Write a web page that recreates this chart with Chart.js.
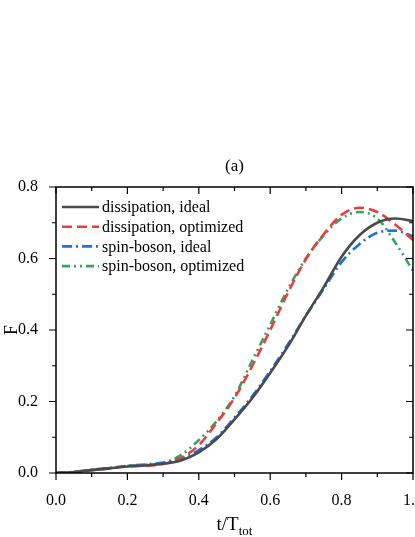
<!DOCTYPE html>
<html lang="en">
  <head>
    <meta charset="UTF-8" />
    <title>F vs t/Ttot</title>
    <script src="https://cdn.jsdelivr.net/npm/chart.js"></script>
    <style>
      body { margin: 0; background: #fff; }
      canvas { display: block; }
    </style>
  </head>
  <body>
    <canvas id="chart" width="415" height="537"></canvas>
    <script>
      // time axis (t / T_tot)
      const tVals = [0, 0.05, 0.1, 0.15, 0.2, 0.25, 0.3, 0.35, 0.4, 0.45, 0.5,
                     0.55, 0.6, 0.65, 0.7, 0.75, 0.8, 0.85, 0.9, 0.95, 1.0];
      const dissIdeal = [0, 0.003, 0.008, 0.013, 0.018, 0.021, 0.026, 0.035, 0.058, 0.095, 0.15,
                         0.21, 0.28, 0.355, 0.44, 0.52, 0.605, 0.665, 0.70, 0.712, 0.705];
      const dissOpt = [0, 0.002, 0.008, 0.013, 0.019, 0.02, 0.025, 0.042, 0.078, 0.14, 0.21,
                       0.30, 0.40, 0.505, 0.598, 0.668, 0.722, 0.742, 0.73, 0.695, 0.652];
      const spinIdeal = [0, 0.003, 0.009, 0.014, 0.02, 0.024, 0.029, 0.04, 0.064, 0.10, 0.155,
                         0.215, 0.285, 0.36, 0.44, 0.515, 0.59, 0.64, 0.672, 0.678, 0.662];
      const spinOpt = [0, 0.003, 0.009, 0.014, 0.02, 0.023, 0.028, 0.05, 0.092, 0.145, 0.215,
                       0.315, 0.415, 0.515, 0.6, 0.665, 0.712, 0.73, 0.712, 0.645, 0.566];
      const seriesNames = ['dissipation, ideal', 'dissipation, optimized',
                           'spin-boson, ideal', 'spin-boson, optimized'];

      const FONT = '"Liberation Serif", "Times New Roman", serif';
      const pts = (ys) => tVals.map((t, i) => ({ x: t, y: ys[i] }));

      function ds(label, ys, color, dash) {
        return {
          label: label,
          data: pts(ys),
          borderColor: color,
          borderWidth: 2.6,
          borderDash: dash,
          pointRadius: 0,
          fill: false,
          cubicInterpolationMode: 'monotone'
        };
      }

      // frame, inner/outer ticks, legend, titles
      const decor = {
        id: 'decor',
        afterDraw(chart) {
          const c = chart.ctx;
          const a = chart.chartArea;
          const xs = chart.scales.x, ys = chart.scales.y;
          c.save();
          c.strokeStyle = '#000';
          c.lineWidth = 1.5;
          c.setLineDash([]);
          c.strokeRect(a.left, a.top, a.right - a.left, a.bottom - a.top);

          c.lineWidth = 1.2;
          for (let k = 0; k <= 10; k++) {
            const px = xs.getPixelForValue(k / 10);
            const len = k % 2 === 0 ? 7 : 4;
            c.beginPath();
            c.moveTo(px, a.bottom); c.lineTo(px, a.bottom + len);
            c.moveTo(px, a.top); c.lineTo(px, a.top + len);
            c.stroke();
          }
          for (let k = 0; k <= 8; k++) {
            const py = ys.getPixelForValue(k / 10);
            const len = k % 2 === 0 ? 7 : 4;
            c.beginPath();
            c.moveTo(a.left, py); c.lineTo(a.left - len, py);
            c.moveTo(a.right, py); c.lineTo(a.right - len, py);
            c.stroke();
          }

          // legend
          c.font = '16px ' + FONT;
          c.textBaseline = 'middle';
          c.fillStyle = '#000';
          chart.data.datasets.forEach((d, i) => {
            const y = a.top + 20 + i * 19.7;
            c.strokeStyle = d.borderColor;
            c.lineWidth = 2.6;
            c.setLineDash(d.borderDash || []);
            c.beginPath();
            c.moveTo(a.left + 6, y); c.lineTo(a.left + 43, y);
            c.stroke();
            c.setLineDash([]);
            c.fillText(d.label, a.left + 46, y + 1);
          });

          // title
          const cx = (a.left + a.right) / 2;
          c.textAlign = 'center';
          c.font = '17px ' + FONT;
          c.fillText('(a)', cx, 167);

          // x title with subscript
          c.textBaseline = 'alphabetic';
          c.font = '19px ' + FONT;
          const main = 't/T';
          const wMain = c.measureText(main).width;
          c.font = '13px ' + FONT;
          const wSub = c.measureText('tot').width;
          const x0 = cx - (wMain + wSub) / 2;
          c.textAlign = 'left';
          c.font = '19px ' + FONT;
          c.fillText(main, x0, 530);
          c.font = '13px ' + FONT;
          c.fillText('tot', x0 + wMain, 535);

          // y title
          c.textBaseline = 'middle';
          c.translate(12, (a.top + a.bottom) / 2);
          c.rotate(-Math.PI / 2);
          c.textAlign = 'center';
          c.font = '18px ' + FONT;
          c.fillText('F', 0, 0);
          c.restore();
        }
      };

      new Chart(document.getElementById('chart'), {
        type: 'line',
        data: {
          datasets: [
            ds(seriesNames[0], dissIdeal, '#4a4a4a', []),
            ds(seriesNames[1], dissOpt, '#eb3d3d', [10, 5]),
            ds(seriesNames[2], spinIdeal, '#1f6fe0', [10, 4, 2, 4]),
            ds(seriesNames[3], spinOpt, '#2ea65c', [8, 4, 2, 4, 2, 4])
          ]
        },
        options: {
          responsive: false,
          animation: false,
          layout: { padding: { top: 187, right: 2, left: 0, bottom: 0 } },
          plugins: { legend: { display: false }, tooltip: { enabled: false } },
          scales: {
            x: {
              type: 'linear',
              min: 0, max: 1.0,
              grid: { display: false },
              border: { display: false },
              ticks: {
                stepSize: 0.2,
                padding: 10,
                color: '#000',
                font: { family: FONT, size: 16 },
                callback: (v) => v.toFixed(1)
              },
              afterFit: (s) => { s.height = 64; s.paddingRight = 0; s.paddingLeft = 0; }
            },
            y: {
              min: 0, max: 0.8,
              grid: { display: false },
              border: { display: false },
              ticks: {
                stepSize: 0.2,
                padding: 10,
                color: '#000',
                font: { family: FONT, size: 16 },
                callback: (v) => v.toFixed(1)
              },
              afterFit: (s) => { s.width = 56; s.paddingTop = 0; s.paddingBottom = 0; }
            }
          }
        },
        plugins: [decor]
      });
    </script>
  </body>
</html>
